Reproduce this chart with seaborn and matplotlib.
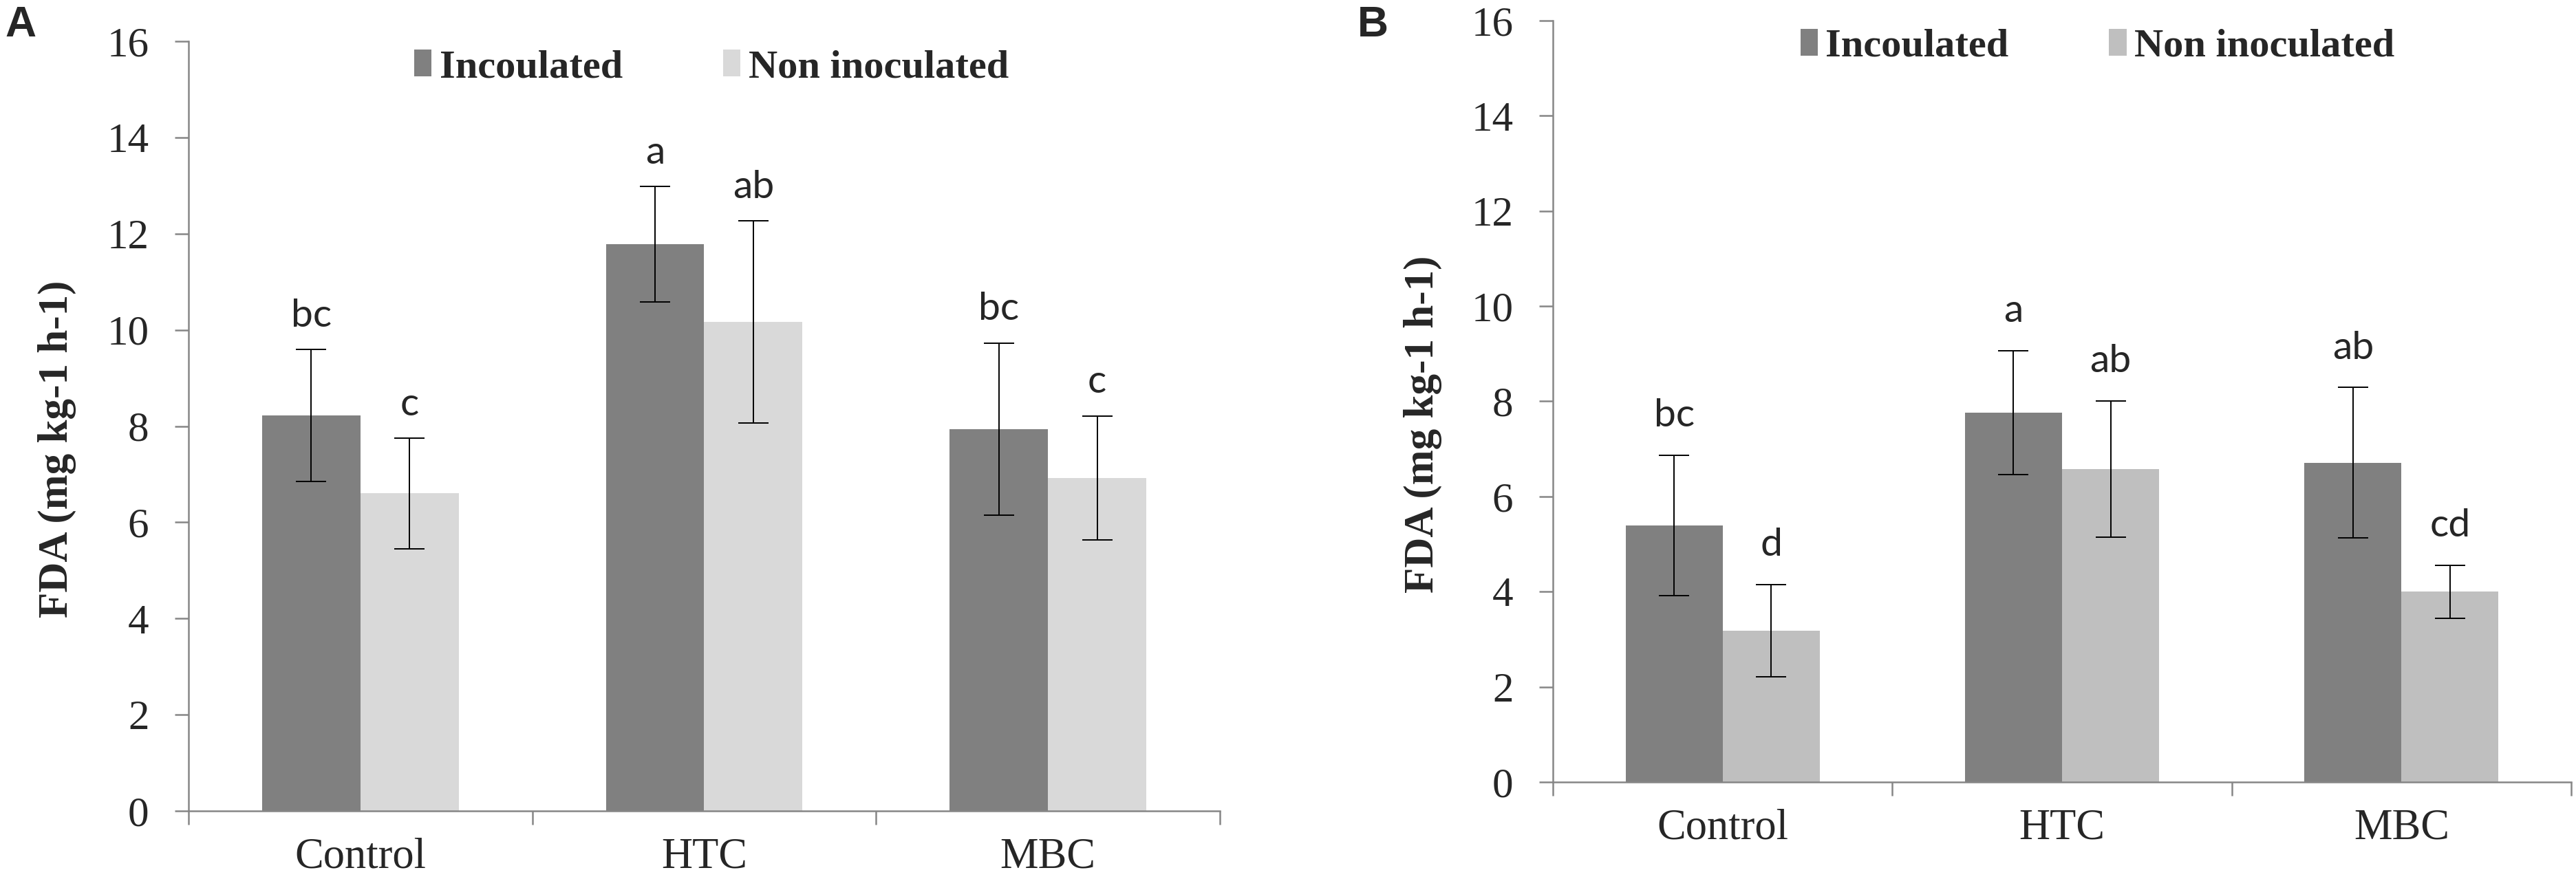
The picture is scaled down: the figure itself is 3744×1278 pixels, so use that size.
import matplotlib
matplotlib.use("Agg")
import pandas as pd
import matplotlib.pyplot as plt
import seaborn as sns

treatments = ["Control", "HTC", "MBC"]
groups = ["Incoulated", "Non inoculated"]

# panel A
fda_a_inoc = [8.22, 11.78, 7.94]
fda_a_non = [6.60, 10.17, 6.92]
err_a_inoc = [1.37, 1.20, 1.79]
err_a_non = [1.15, 2.10, 1.29]
letters_a_inoc = ["bc", "a", "bc"]
letters_a_non = ["c", "ab", "c"]

# panel B
fda_b_inoc = [5.39, 7.76, 6.71]
fda_b_non = [3.18, 6.58, 4.00]
err_b_inoc = [1.48, 1.30, 1.58]
err_b_non = [0.97, 1.43, 0.56]
letters_b_inoc = ["bc", "a", "ab"]
letters_b_non = ["d", "ab", "cd"]

dark = "#808080"
axis_col = "#868686"
serif = "Liberation Serif"

sns.set_theme(style="white")
plt.rcParams["font.family"] = [serif, "DejaVu Serif"]


def draw_panel(ax, inoc, non, err_inoc, err_non, let_inoc, let_non, light, leg_x, let_off):
    df = pd.DataFrame({
        "treatment": treatments * 2,
        "group": [groups[0]] * 3 + [groups[1]] * 3,
        "fda": inoc + non,
    })
    sns.barplot(data=df, x="treatment", y="fda", hue="group", order=treatments,
                hue_order=groups, palette=[dark, light], width=0.572, errorbar=None,
                saturation=1, linewidth=0, ax=ax)

    for cont, errs, lets in zip(ax.containers, [err_inoc, err_non], [let_inoc, let_non]):
        xs = [b.get_x() + b.get_width() / 2 for b in cont]
        ys = [b.get_height() for b in cont]
        ax.errorbar(xs, ys, yerr=errs, fmt="none", ecolor="black", elinewidth=1.4,
                    capsize=16, capthick=1.4, zorder=3)
        for x, y, e, t in zip(xs, ys, errs, lets):
            ax.annotate(t, (x, y + e), xytext=(0, let_off), textcoords="offset points",
                        ha="center", va="baseline", fontsize=41, family="Lato")

    ax.set_ylim(0, 16)
    ax.set_yticks(range(0, 17, 2))
    ax.set_xlim(-0.5, 2.5)
    ax.set_xticks([-0.5, 0.5, 1.5, 2.5])
    ax.set_xticklabels([])
    ax.set_xticks([0, 1, 2], treatments, minor=True)
    ax.tick_params(axis="x", which="major", direction="out", length=14.4, width=1.8,
                   color=axis_col, bottom=True)
    ax.tick_params(axis="x", which="minor", length=0, pad=28, labelsize=45, bottom=True)
    ax.tick_params(axis="y", direction="out", length=14.4, width=1.8, color=axis_col,
                   pad=27, labelsize=44, left=True)

    for s in ["top", "right"]:
        ax.spines[s].set_visible(False)
    for s in ["left", "bottom"]:
        ax.spines[s].set_color(axis_col)
        ax.spines[s].set_linewidth(1.8)

    ax.set_xlabel("")
    ax.set_ylabel("FDA (mg kg-1 h-1)", fontsize=44, weight="bold", family=serif)
    ax.yaxis.set_label_coords(-0.109, 0.47)

    sns.move_legend(ax, "center left", bbox_to_anchor=(leg_x, 0.966), ncol=2,
                    frameon=False, title=None, borderpad=0, borderaxespad=0,
                    handlelength=0.43, handleheight=0.65, handletextpad=0.2,
                    columnspacing=2.5,
                    prop={"family": serif, "weight": "bold", "size": 42})


fig = plt.figure(figsize=(37.44, 12.78), dpi=100)
ax_a = fig.add_axes([0.07318, 0.07746, 0.40038, 0.87559])
ax_b = fig.add_axes([0.60283, 0.11033, 0.39530, 0.86620])

draw_panel(ax_a, fda_a_inoc, fda_a_non, err_a_inoc, err_a_non,
           letters_a_inoc, letters_a_non, "#D9D9D9", 0.219, 24)
draw_panel(ax_b, fda_b_inoc, fda_b_non, err_b_inoc, err_b_non,
           letters_b_inoc, letters_b_non, "#BFBFBF", 0.243, 30)

fig.text(0.0019, 0.9585, "A", family="Liberation Sans", weight="bold", size=45, va="baseline")
fig.text(0.527, 0.9585, "B", family="Liberation Sans", weight="bold", size=45, va="baseline")

fig.savefig("out.png", dpi=100)
